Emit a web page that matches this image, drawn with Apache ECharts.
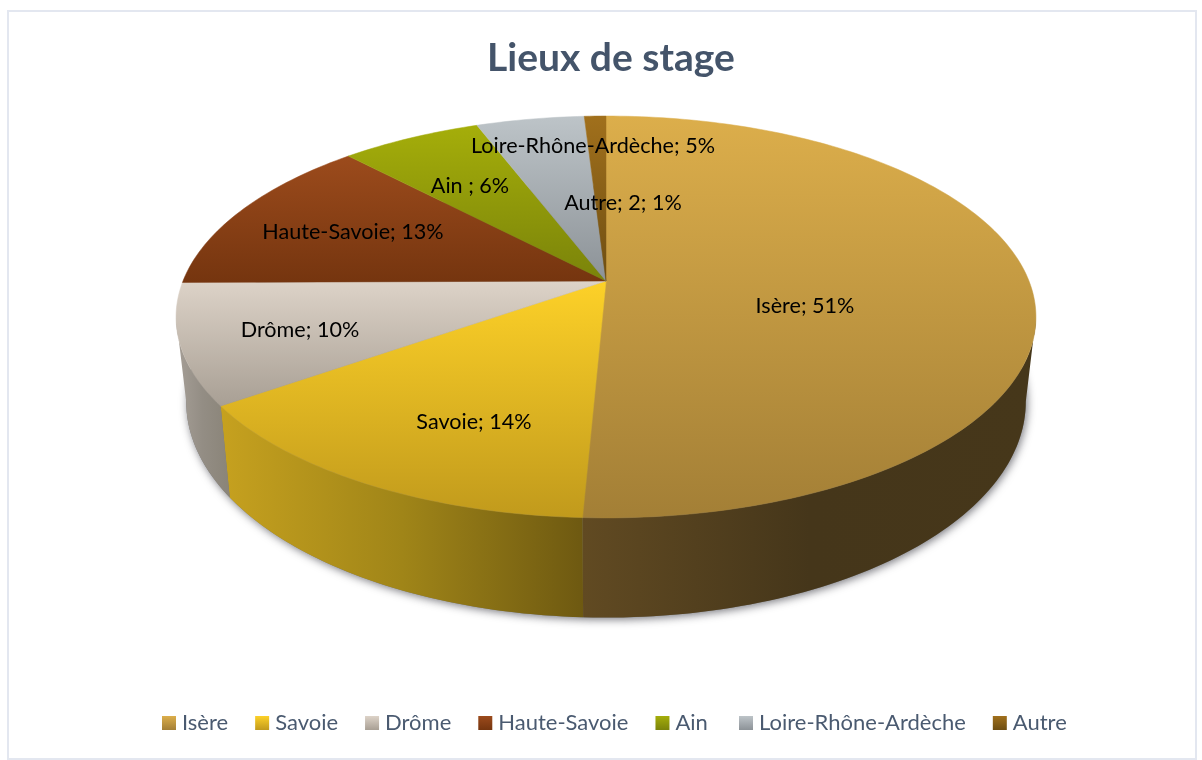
<!DOCTYPE html>
<html>
<head>
<meta charset="utf-8">
<title>Lieux de stage</title>
<style>
html,body{margin:0;padding:0;background:#fff}
#chart{width:1202px;height:760px}
</style>
<script src="https://cdn.jsdelivr.net/npm/echarts@6/dist/echarts.min.js"></script>
</head>
<body>
<div id="chart"></div>
<script>
const categories = ['Isère','Savoie','Drôme','Haute-Savoie','Ain','Loire-Rhône-Ardèche','Autre'];
const values = [105,30,20,27,13,10,2];
const labelTexts = ['Isère; 51%','Savoie; 14%','Drôme; 10%','Haute-Savoie; 13%','Ain ; 6%','Loire-Rhône-Ardèche; 5%','Autre; 2; 1%'];

// label centres, px
const labelPos = [[805,306],[474,422],[300,330],[353,232],[470,186],[593,146],[623,203]];
// top face gradient per slice
const topColors = [['#dcae4b','#a37f36'],['#fdd128','#c19a1c'],['#ddd3c8','#a89f94'],['#9c4b1c','#75350f'],['#a5ae0a','#7a830a'],['#bdc4c8','#8c9297'],['#a1701c','#6e4e12']];
// side wall gradient per slice, left to right
const wallColors = [['#614a22','#45361a','#46371a'],['#c6a11f','#a08518','#6e5911'],['#a69f97','#938d84','#8a8478'],['#75350f','#75350f','#75350f'],['#7a830a','#7a830a','#7a830a'],['#8c9297','#8c9297','#8c9297'],['#6e4e12','#6e4e12','#6e4e12']];

// the pie is a disc seen in perspective; the base plane has its own projection
const persp = 0.179;
const topDisc = {cx:606, cy:281, rx:423, ry:194.5};
const baseDisc = {cx:606, cy:363, rx:413, ry:209};
// angle where the rim is widest, walls are only seen past it
const silhouette = Math.acos(-persp);

const total = values.reduce((a,b)=>a+b,0);

function project(disc, angle){
    let u = Math.sin(angle), v = -Math.cos(angle);
    let w = 1 - persp*v;
    return [disc.cx + disc.rx*u/w, disc.cy + disc.ry*v/w];
}
function arc(disc, a0, a1){
    let pts = [], n = Math.max(4, Math.ceil((a1-a0)/0.02));
    for(let i=0;i<=n;i++){ pts.push(project(disc, a0 + (a1-a0)*i/n)); }
    return pts;
}
function sliceAngles(idx){
    let before = values.slice(0,idx).reduce((a,b)=>a+b,0);
    return [before/total*Math.PI*2, (before+values[idx])/total*Math.PI*2];
}
function vGrad(c){
    return new echarts.graphic.LinearGradient(0,0,0,1,[{offset:0,color:c[0]},{offset:1,color:c[1]}]);
}
function hGrad(c){
    return new echarts.graphic.LinearGradient(0,0,1,0,[{offset:0,color:c[0]},{offset:0.5,color:c[1]},{offset:1,color:c[2]}]);
}

function renderSlice(idx){
    return function(){
        let [a0,a1] = sliceAngles(idx);
        let topFill = vGrad(topColors[idx]);
        let topPts = [[topDisc.cx,topDisc.cy]].concat(arc(topDisc,a0,a1));
        let children = [
            {type:'polygon',z2:2,shape:{points:topPts},style:{fill:topFill,stroke:topFill,lineWidth:0.5}},
            {type:'text',z2:3,x:labelPos[idx][0],y:labelPos[idx][1],style:{
                text:labelTexts[idx],fill:'#000',font:'21.6px Lato',align:'center',verticalAlign:'middle'
            }}
        ];
        let w0 = Math.max(a0,silhouette), w1 = Math.min(a1,Math.PI*2-silhouette);
        if(w1 > w0){
            let wallPts = arc(topDisc,w0,w1).concat(arc(baseDisc,w0,w1).reverse());
            children.unshift({type:'polygon',z2:1,shape:{points:wallPts},style:{fill:hGrad(wallColors[idx])}});
        }
        return {type:'group',children:children};
    };
}

// soft shadow under the base
const shadowSeries = {
    type:'custom',name:'socle',coordinateSystem:'none',data:[total],silent:true,
    renderItem:function(){
        return {type:'polygon',z2:0,shape:{points:arc(baseDisc,0,Math.PI*2)},style:{
            fill:'#777',shadowBlur:8,shadowColor:'rgba(50,50,60,0.65)',shadowOffsetX:1.5,shadowOffsetY:2
        }};
    }
};

const series = [shadowSeries].concat(categories.map((name,idx)=>({
    type:'custom',name:name,coordinateSystem:'none',data:[values[idx]],silent:true,
    itemStyle:{color:vGrad(topColors[idx])},
    renderItem:renderSlice(idx)
})));

// two legend blocks because the gap before Loire-Rhône-Ardèche is wider
function legendBlock(names,left){
    return {
        data:names,left:left,top:712,padding:0,icon:'rect',itemWidth:14,itemHeight:14,itemGap:27,
        textStyle:{fontFamily:'Lato',fontSize:22,color:'#4a5a70',padding:[0,0,0,1]},selectedMode:false
    };
}

const chart = echarts.init(document.getElementById('chart'),null,{renderer:'canvas'});
chart.setOption({
    animation:false,
    backgroundColor:'#fff',
    title:{text:'Lieux de stage',left:487,top:39,padding:0,textStyle:{fontFamily:'Lato',fontWeight:'bold',fontSize:39,color:'#44546a'}},
    legend:[legendBlock(categories.slice(0,5),162),legendBlock(categories.slice(5),739)],
    graphic:[{type:'rect',silent:true,z:-1,shape:{x:8,y:11,width:1188,height:748},style:{fill:'none',stroke:'#e3e7f0',lineWidth:2}}],
    series:series
});
</script>
</body>
</html>
